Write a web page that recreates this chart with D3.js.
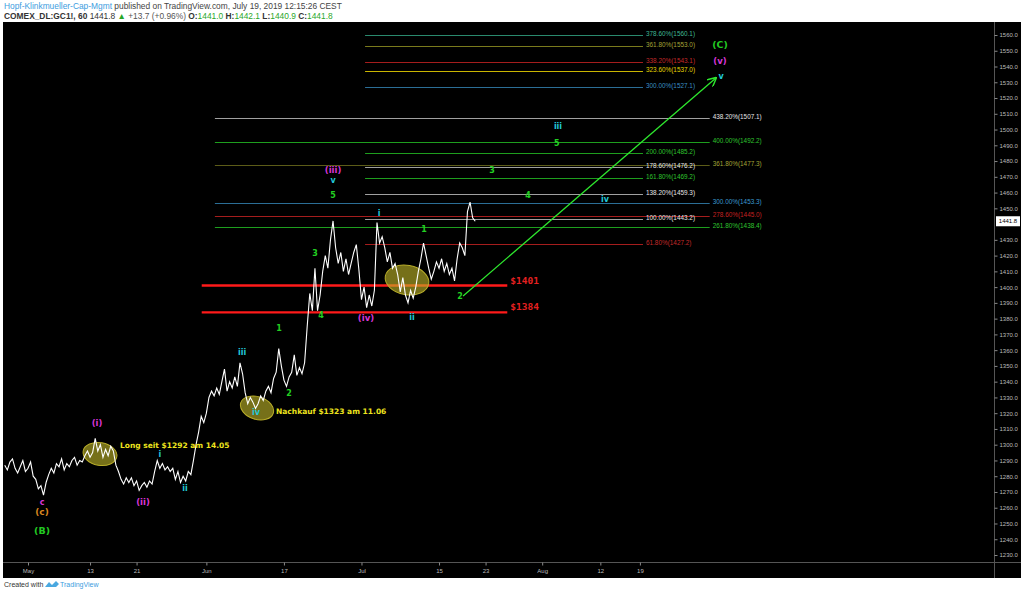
<!DOCTYPE html>
<html><head><meta charset="utf-8">
<script src="https://cdn.jsdelivr.net/npm/d3@7"></script>
<style>
html,body{margin:0;padding:0;background:#fff;}
svg{display:block;font-family:"Liberation Sans",Arial,sans-serif;}
</style></head><body>
<svg id="c" width="1024" height="594"></svg>
<script>
// ---------------- DATA ----------------
// x axis: trading days since May 1, 2019
const dayTicks = [0, 8, 14, 23, 33, 43, 53, 59, 66.3, 73.8, 78.9];
const dayTickLabels = ["May","13","21","Jun","17","Jul","15","23","Aug","12","19"];
const priceTicks = [1230,1240,1250,1260,1270,1280,1290,1300,1310,1320,1330,1340,1350,1360,1370,1380,1390,1400,1410,1420,1430,1450,1460,1470,1480,1490,1500,1510,1520,1530,1540,1550,1560];

// hourly-ish gold futures path (3 samples per trading day), starting day -3
const priceStartDay = -3;
const samplesPerDay = 3;
const prices = [
  1287,1284,1289, 1291,1285,1282, 1286,1290,1283, 1285,1289,1280,
  1278,1272,1274, 1268,1276,1281, 1285,1282,1288, 1286,1291,1284,
  1288,1286,1290, 1292,1287,1290, 1289,1293,1296, 1292,1295,1304,
  1296,1300,1292, 1297,1293,1299, 1296,1287,1283, 1278,1275,1279,
  1276,1279,1274, 1277,1271,1274, 1276,1273,1277, 1275,1283,1290,
  1285,1288,1284, 1286,1283,1285, 1278,1283,1276, 1280,1277,1283,
  1281,1290,1300, 1308,1318,1314, 1320,1330,1334, 1331,1336,1332,
  1340,1348,1334, 1340,1336,1343, 1337,1352,1345, 1333,1326,1330,
  1327,1323,1326, 1331,1328,1334, 1337,1333,1342, 1346,1361,1350,
  1341,1337,1343, 1346,1357,1344, 1349,1345,1352, 1375,1396,1385,
  1412,1385,1395, 1410,1420,1412, 1430,1442,1425, 1415,1422,1410,
  1418,1408,1415, 1422,1427,1411, 1392,1400,1387, 1395,1388,1398,
  1441,1428,1432, 1425,1416,1422, 1412,1415,1408, 1397,1406,1395,
  1390,1398,1393, 1400,1410,1418, 1428,1420,1412, 1405,1410,1416,
  1412,1418,1410, 1415,1408,1412, 1404,1418,1428, 1425,1420,1448,
  1454,1444,1441.8
];
const lastPrice = 1441.8;

// Fibonacci levels
const fibShortPcts   = ["378.60%","361.80%","338.20%","323.60%","300.00%","200.00%","178.60%","161.80%","138.20%","100.00%","61.80%"];
const fibShortValues = [1560.1,1553.0,1543.1,1537.0,1527.1,1485.2,1476.2,1469.2,1459.3,1443.2,1427.2];
const fibLongPcts    = ["438.20%","400.00%","361.80%","300.00%","278.60%","261.80%"];
const fibLongValues  = [1507.1,1492.2,1477.3,1453.3,1445.0,1438.4];
const fibShortSpan = [43.46, 79.3];   // days
const fibLongSpan  = [24.1, 87.9];

// support levels
const supportValues = [1401, 1384];
const supportLabels = ["$1401", "$1384"];
const supportSpan = [22.4, 61.8];

// Elliott wave labels
const waveTexts  = ["c","(c)","(B)","(i)","(ii)","i","ii","iii","iv","1","2","3","4","5","v","(iii)","(iv)","i","ii","1","2","3","4","5","iii","iv","(C)","(v)","v"];
const waveDays   = [1.81,1.81,1.81,8.9,14.83,17.02,20.25,27.6,29.4,32.37,33.66,37.0,37.78,39.33,39.33,39.33,43.58,45.26,49.52,51.06,55.7,59.83,64.47,68.2,68.34,74.4,89.23,89.23,89.36];
const wavePrices = [1263.7,1257.3,1245.3,1313.8,1263.7,1293.8,1272.6,1358.9,1320.8,1374.1,1332.8,1421.7,1382.3,1458.5,1468,1474.3,1380.4,1447.1,1381.1,1436.9,1394.4,1474.3,1458.5,1491.5,1502.3,1455.9,1553.7,1543.5,1534];
const waveDegree = ["sub","minor","inter","minute","minute","minuette","minuette","minuette","minuette","sub2","sub2","sub2","sub2","sub2","minuette","minute","minute","minuette","minuette","sub2","sub2","sub2","sub2","sub2","minuette","minuette","inter","minute","minuette"];

// highlighted zones (center day, center price, half-width days, half-height price)
const zoneDays   = [9.28, 29.53, 48.87];
const zonePrices = [1294.1, 1323.3, 1404.5];
const zoneHalfDays   = [2.2, 2.2, 2.84];
const zoneHalfPrices = [7.2, 7.2, 9.3];

// notes
const noteTexts  = ["Long seit $1292 am 14.05", "Nachkauf $1323 am 11.06"];
const noteDays   = [11.86, 31.98];
const notePrices = [1299.6, 1321.4];

// projection arrow
const arrowDays   = [56.1, 88.7];
const arrowPrices = [1394.4, 1532.7];

// ---------------- CHART ----------------
const svg = d3.select("#c");
const W = 1024, H = 594;
const plot = {left: 3, right: 994, top: 23, bottom: 562};

const x = d3.scaleLinear().domain([-3.224, 124.56]).range([3, 994]);
const y = d3.scaleLinear().domain([1230, 1560]).range([555, 35]);

svg.append("rect").attr("width", W).attr("height", H).attr("fill", "#fff");
svg.append("rect").attr("x", 3).attr("y", 22).attr("width", 1018).attr("height", 556).attr("fill", "#000");

// header
const h1 = svg.append("text").attr("x", 4).attr("y", 9).attr("font-size", 8.4).attr("fill", "#444");
h1.append("tspan").attr("fill", "#3d9de0").text("Hopf-Klinkmueller-Cap-Mgmt");
h1.append("tspan").text(" published on TradingView.com, July 19, 2019 12:15:26 CEST");
const h2 = svg.append("text").attr("x", 4).attr("y", 18.5).attr("font-size", 8.4).attr("fill", "#333");
h2.append("tspan").attr("font-weight", "bold").text("COMEX_DL:GC1!, 60 ");
h2.append("tspan").text("1441.8 ");
h2.append("tspan").attr("fill", "#26a626").text("▲");
h2.append("tspan").attr("fill", "#555").text(" +13.7 (+0.96%) ");
[["O:","1441.0"],["H:","1442.1"],["L:","1440.9"],["C:","1441.8"]].forEach(([k,v])=>{
  h2.append("tspan").attr("font-weight","bold").attr("fill","#333").text(k);
  h2.append("tspan").attr("fill","#2aa82a").text(v+" ");
});

// clip
svg.append("clipPath").attr("id","clip").append("rect")
  .attr("x", plot.left).attr("y", plot.top).attr("width", plot.right-plot.left).attr("height", plot.bottom-plot.top);
const g = svg.append("g").attr("clip-path","url(#clip)");

// axes frame lines
svg.append("line").attr("x1", 994.5).attr("x2", 994.5).attr("y1", 22).attr("y2", 578).attr("stroke", "#555");
svg.append("line").attr("x1", 3).attr("x2", 1021).attr("y1", 562.5).attr("y2", 562.5).attr("stroke", "#555");

// right axis
const ya = svg.append("g").attr("transform","translate(994.5,0)")
  .call(d3.axisRight(y).tickValues(priceTicks).tickFormat(d3.format(".1f")).tickSize(3).tickPadding(2));
ya.select(".domain").remove();
ya.selectAll(".tick line").attr("stroke","#888");
ya.selectAll(".tick text").attr("fill","#bbb").attr("font-size",6).attr("font-family","Liberation Sans, Arial, sans-serif");

// bottom axis
const xa = svg.append("g").attr("transform","translate(0,562.5)")
  .call(d3.axisBottom(x).tickValues(dayTicks).tickFormat((d,i)=>dayTickLabels[i]).tickSize(3).tickPadding(3));
xa.select(".domain").remove();
xa.selectAll(".tick line").attr("stroke","#888");
xa.selectAll(".tick text").attr("fill","#bbb").attr("font-size",6).attr("font-family","Liberation Sans, Arial, sans-serif");

// last price tag
svg.append("rect").attr("x", 996).attr("y", y(lastPrice)-5).attr("width", 24).attr("height", 10).attr("fill","#fff");
svg.append("text").attr("x", 1008).attr("y", y(lastPrice)).attr("dy","0.35em").attr("text-anchor","middle")
  .attr("font-size",6).attr("fill","#000").text(lastPrice.toFixed(1));

// fib styles
const fibStyle = {
  "378.60%": ["#2a8a6e","#3fb894"],
  "361.80%S": ["#7a7a1c","#a3a336"],
  "338.20%": ["#a51d1d","#c42a2a"],
  "323.60%": ["#c9b500","#e6d600"],
  "300.00%S": ["#2b6e96","#3b8fc4"],
  "200.00%": ["#1e9e1e","#2fc42f"],
  "178.60%": ["#a0a0a0","#e6e6e6"],
  "161.80%": ["#1e9e1e","#2fc42f"],
  "138.20%": ["#a0a0a0","#e6e6e6"],
  "100.00%": ["#a0a0a0","#e6e6e6"],
  "61.80%": ["#a51d1d","#c42a2a"],
  "438.20%": ["#a0a0a0","#e6e6e6"],
  "400.00%": ["#1e9e1e","#2fc42f"],
  "361.80%L": ["#5c5c18","#a3a336"],
  "300.00%L": ["#2b6e96","#3b9ad0"],
  "278.60%": ["#a51d1d","#c42020"],
  "261.80%": ["#1e9e1e","#2fc42f"]
};
function styleKey(p, grp){ return fibStyle[p] ? p : p + grp; }

function drawFib(pcts, vals, span, grp){
  pcts.forEach((p,i)=>{
    const st = fibStyle[styleKey(p,grp)];
    const yy = Math.round(y(vals[i])) + 0.5;
    g.append("line").attr("x1", x(span[0])).attr("x2", x(span[1])).attr("y1", yy).attr("y2", yy)
      .attr("stroke", st[0]).attr("stroke-width", 1);
    g.append("text").attr("x", x(span[1]) + 3).attr("y", yy + 0.5)
      .attr("font-size", 6.4).attr("fill", st[1]).text(`${p}(${vals[i].toFixed(1)})`);
  });
}
drawFib(fibLongPcts, fibLongValues, fibLongSpan, "L");
drawFib(fibShortPcts, fibShortValues, fibShortSpan, "S");

// support lines
supportValues.forEach((v,i)=>{
  g.append("line").attr("x1", x(supportSpan[0])).attr("x2", x(supportSpan[1]))
    .attr("y1", y(v)).attr("y2", y(v)).attr("stroke", "#ff1a1a").attr("stroke-width", 2.4);
  g.append("text").attr("x", x(supportSpan[1]) + 3).attr("y", y(v) - 2)
    .attr("font-size", 9.5).attr("font-weight","bold").attr("fill","#e52020")
    .attr("font-family","DejaVu Sans Mono, Liberation Mono, monospace").text(supportLabels[i]);
});

// zones
zoneDays.forEach((d,i)=>{
  const cx = x(d), cy = y(zonePrices[i]);
  const rx = x(d + zoneHalfDays[i]) - cx, ry = y(zonePrices[i] - zoneHalfPrices[i]) - cy;
  g.append("ellipse").attr("cx", cx).attr("cy", cy).attr("rx", rx).attr("ry", ry)
    .attr("transform", `rotate(${i===1?18:10},${cx},${cy})`)
    .attr("fill", "rgba(190,180,40,0.62)").attr("stroke", "#b8ad2a").attr("stroke-width", 1);
});

// price line
const line = d3.line().x((d,i)=>x(priceStartDay + i/samplesPerDay)).y(d=>y(d));
g.append("path").datum(prices).attr("d", line).attr("fill","none")
  .attr("stroke","#fff").attr("stroke-width",1.1).attr("stroke-linejoin","miter");

// arrow
svg.append("defs").append("marker").attr("id","ah").attr("viewBox","0 0 10 10")
  .attr("refX",9).attr("refY",5).attr("markerWidth",7).attr("markerHeight",7).attr("orient","auto")
  .append("path").attr("d","M0,0 L10,5 L0,10").attr("fill","none").attr("stroke","#2ee82e").attr("stroke-width",1.6);
g.append("line").attr("x1", x(arrowDays[0])).attr("y1", y(arrowPrices[0]))
  .attr("x2", x(arrowDays[1])).attr("y2", y(arrowPrices[1]))
  .attr("stroke","#2ee82e").attr("stroke-width",1.3).attr("marker-end","url(#ah)");

// wave labels
const degColor = {sub:"#d936d9", minor:"#d9861f", inter:"#22c922", minute:"#d936d9", minuette:"#22c8d8", sub2:"#22d022"};
const degSize  = {sub:8, minor:9, inter:9.5, minute:8.5, minuette:8, sub2:8};
waveTexts.forEach((t,i)=>{
  g.append("text").attr("x", x(waveDays[i])).attr("y", y(wavePrices[i])).attr("dy","0.35em")
    .attr("text-anchor","middle").attr("font-weight","bold")
    .attr("font-size", degSize[waveDegree[i]]).attr("fill", degColor[waveDegree[i]])
    .attr("font-family","DejaVu Sans, Verdana, sans-serif").text(t);
});

// notes
noteTexts.forEach((t,i)=>{
  g.append("text").attr("x", x(noteDays[i])).attr("y", y(notePrices[i])).attr("dy","0.35em")
    .attr("font-size", 7.5).attr("font-weight","bold").attr("fill","#eee41e")
    .attr("font-family","DejaVu Sans, Verdana, sans-serif").text(t);
});

// footer
const ft = svg.append("text").attr("x", 4).attr("y", 587).attr("font-size", 7).attr("fill", "#333");
ft.append("tspan").text("Created with ");
svg.append("path").attr("d","M45,587 l4,-5 l3,3 l4,-4 l3,3 l-3,3 z").attr("fill","#4aa8e0");
svg.append("text").attr("x", 60).attr("y", 587).attr("font-size", 7).attr("fill", "#3d9de0").text("TradingView");
</script>
</body></html>
